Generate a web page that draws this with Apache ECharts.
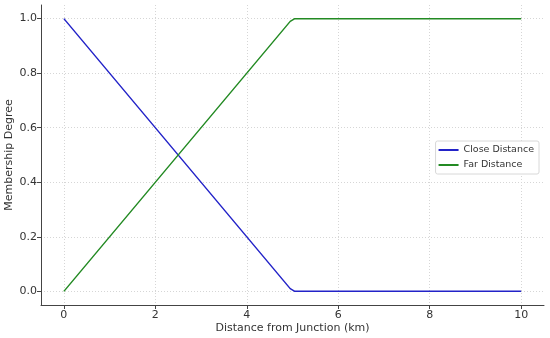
<!DOCTYPE html>
<html><head><meta charset="utf-8">
<script src="https://cdn.jsdelivr.net/npm/echarts@6/dist/echarts.min.js"></script>
<style>html,body{margin:0;padding:0;background:#fff}#c{width:550px;height:338px}</style>
</head><body><div id="c"></div>
<script>
const xTicks = [0, 2, 4, 6, 8, 10];
const yTicks = [0.0, 0.2, 0.4, 0.6, 0.8, 1.0];
const closeX = [0, 4.95, 5.05, 10];
const closeY = [1.0, 0.01, 0.0, 0.0];
const farX = [0, 4.95, 5.05, 10];
const farY = [0.0, 0.99, 1.0, 1.0];
const seriesNames = ['Close Distance', 'Far Distance'];

const font = 'DejaVu Sans';
const chart = echarts.init(document.getElementById('c'), null, {renderer: 'canvas'});
const grid = {left: 41, right: 6, top: 5, bottom: 33, containLabel: false, outerBoundsMode: 'none'};
chart.setOption({
  animation: false,
  textStyle: {fontFamily: font},
  grid: grid,
  legend: {
    right: 11, top: 141, orient: 'vertical', itemWidth: 20, itemHeight: 2, itemGap: 5,
    padding: [4, 5, 4, 3],
    borderColor: '#d8d8d8', borderWidth: 1, borderRadius: 2, backgroundColor: '#fff',
    textStyle: {fontFamily: font, fontSize: 9.5, color: '#333'},
    icon: 'rect',
    data: seriesNames
  },
  xAxis: {
    type: 'value', min: -0.5, max: 10.5,
    name: 'Distance from Junction (km)', nameLocation: 'middle', nameGap: 18, nameMoveOverlap: false,
    nameTextStyle: {fontFamily: font, fontSize: 11, color: '#333'},
    axisLine: {show: true, onZero: false, lineStyle: {color: '#444', width: 1}},
    axisTick: {show: true, customValues: xTicks, length: 4, lineStyle: {color: '#444'}},
    axisLabel: {customValues: xTicks, fontFamily: font, fontSize: 11, color: '#333', margin: 5},
    splitLine: {show: true, lineStyle: {color: '#d6d6d6', type: [1, 2], width: 1}}
  },
  yAxis: {
    type: 'value', min: -0.05, max: 1.05,
    name: 'Membership Degree', nameLocation: 'middle', nameGap: 26, nameMoveOverlap: false,
    nameTextStyle: {fontFamily: font, fontSize: 11, color: '#333'},
    axisLine: {show: true, onZero: false, lineStyle: {color: '#444', width: 1}},
    axisTick: {show: true, customValues: yTicks, length: 4, lineStyle: {color: '#444'}},
    axisLabel: {customValues: yTicks, fontFamily: font, fontSize: 11, color: '#333', margin: 4,
      formatter: v => v.toFixed(1)},
    splitLine: {show: true, lineStyle: {color: '#d6d6d6', type: [1, 2], width: 1}}
  },
  series: [
    {name: seriesNames[0], type: 'line', symbol: 'none', color: '#2323c8',
     lineStyle: {width: 1.5}, data: closeX.map((x, i) => [x, closeY[i]])},
    {name: seriesNames[1], type: 'line', symbol: 'none', color: '#238a23',
     lineStyle: {width: 1.5}, data: farX.map((x, i) => [x, farY[i]])}
  ]
});
</script></body></html>
